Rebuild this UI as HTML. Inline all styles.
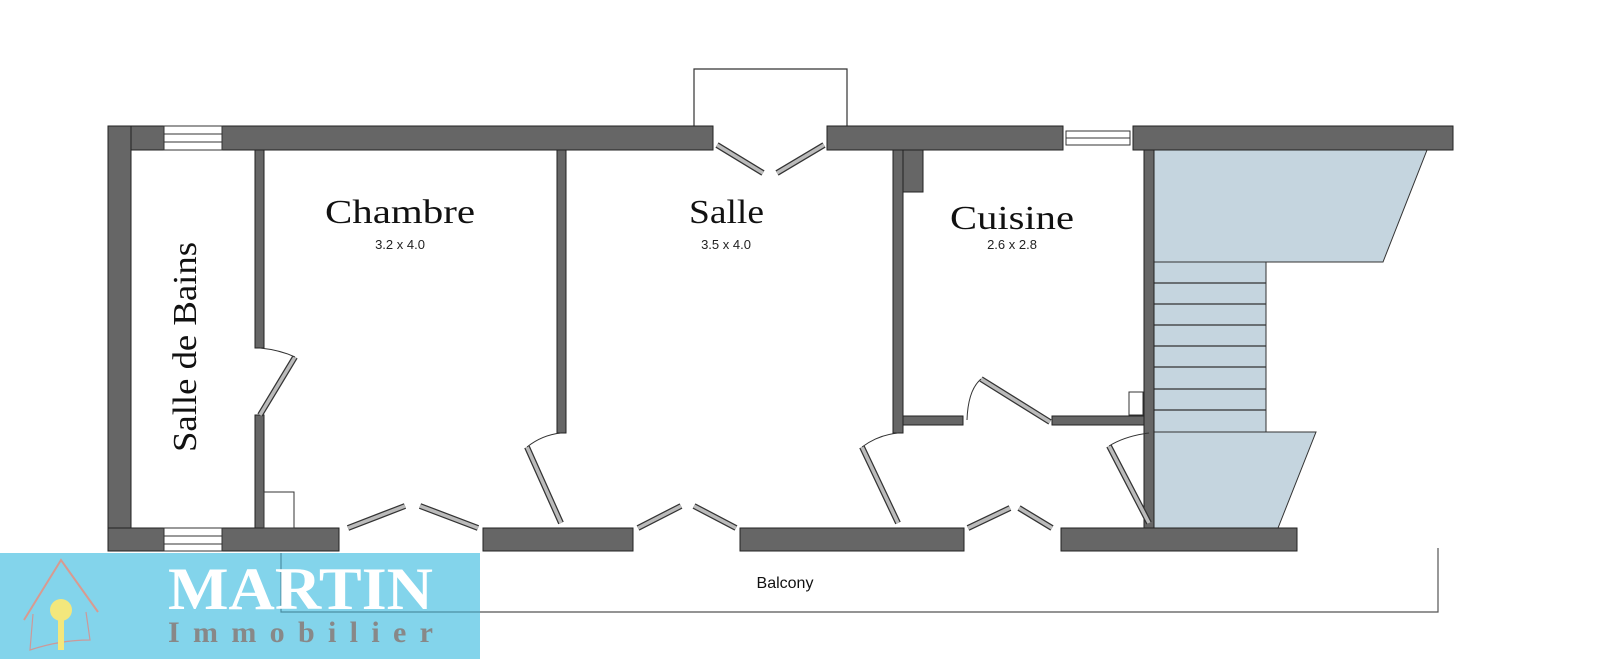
<!DOCTYPE html>
<html><head><meta charset="utf-8"><style>
html,body{margin:0;padding:0;background:#fff;width:1600px;height:659px;overflow:hidden}
</style></head><body>
<svg width="1600" height="659" viewBox="0 0 1600 659" xmlns="http://www.w3.org/2000/svg">
<rect width="1600" height="659" fill="#fff"/>
<!-- stair -->
<g fill="#c5d5df" stroke="#333" stroke-width="1">
<polygon points="1154,150 1427,150 1383,262 1154,262"/>
<rect x="1154" y="262" width="112" height="170"/>
<polygon points="1154,432 1316,432 1278,528 1154,528"/>
</g>
<g stroke="#333" stroke-width="1.2">
<line x1="1154" y1="283" x2="1266" y2="283"/><line x1="1154" y1="304" x2="1266" y2="304"/>
<line x1="1154" y1="325" x2="1266" y2="325"/><line x1="1154" y1="346" x2="1266" y2="346"/>
<line x1="1154" y1="367" x2="1266" y2="367"/><line x1="1154" y1="389" x2="1266" y2="389"/>
<line x1="1154" y1="410" x2="1266" y2="410"/>
</g>
<!-- box above -->
<polyline points="694,126 694,69 847,69 847,126" fill="none" stroke="#333" stroke-width="1.2"/>
<!-- walls -->
<g fill="#666" stroke="#222" stroke-width="1">
<rect x="108" y="126" width="605" height="24"/>
<rect x="827" y="126" width="236" height="24"/>
<rect x="1133" y="126" width="320" height="24"/>
<rect x="108" y="126" width="23" height="425"/>
<rect x="108" y="528" width="231" height="23"/>
<rect x="483" y="528" width="150" height="23"/>
<rect x="740" y="528" width="224" height="23"/>
<rect x="1061" y="528" width="236" height="23"/>
<rect x="255" y="150" width="9" height="198"/>
<rect x="255" y="415" width="9" height="113"/>
<rect x="557" y="150" width="9" height="283"/>
<rect x="893" y="150" width="30" height="42"/>
<rect x="893" y="150" width="10" height="283"/>
<rect x="903" y="416" width="60" height="9"/>
<rect x="1052" y="416" width="92" height="9"/>
<rect x="1144" y="150" width="10" height="378"/>
</g>
<!-- windows -->
<g fill="#fff" stroke="#333" stroke-width="1">
<rect x="164" y="126" width="58" height="24"/><line x1="164" y1="134" x2="222" y2="134"/><line x1="164" y1="142" x2="222" y2="142"/>
<rect x="164" y="528" width="58" height="23"/><line x1="164" y1="536" x2="222" y2="536"/><line x1="164" y1="544" x2="222" y2="544"/>
<rect x="1066" y="131" width="64" height="14"/><line x1="1066" y1="138" x2="1130" y2="138"/>
</g>
<rect x="264" y="492" width="30" height="36" fill="none" stroke="#333"/>
<rect x="1129" y="392" width="14" height="23" fill="none" stroke="#333"/>
<!-- doors -->
<g stroke="#333" stroke-width="6" stroke-linecap="butt">
<line x1="260" y1="415" x2="295" y2="357"/><line x1="348" y1="528" x2="405" y2="506"/><line x1="478" y1="528" x2="420" y2="506"/>
<line x1="561" y1="523" x2="527" y2="447"/><line x1="638" y1="528" x2="681" y2="506"/><line x1="736" y1="528" x2="694" y2="506"/>
<line x1="898" y1="523" x2="862" y2="447"/><line x1="968" y1="528" x2="1010" y2="508"/><line x1="1052" y1="528" x2="1019" y2="508"/>
<line x1="1149" y1="523" x2="1109" y2="446"/><line x1="1050" y1="422" x2="981" y2="379"/>
<line x1="717" y1="145" x2="763" y2="173"/><line x1="824" y1="145" x2="777" y2="173"/>
</g>
<g stroke="#bbb" stroke-width="3.5">
<line x1="260" y1="415" x2="295" y2="357"/><line x1="348" y1="528" x2="405" y2="506"/><line x1="478" y1="528" x2="420" y2="506"/>
<line x1="561" y1="523" x2="527" y2="447"/><line x1="638" y1="528" x2="681" y2="506"/><line x1="736" y1="528" x2="694" y2="506"/>
<line x1="898" y1="523" x2="862" y2="447"/><line x1="968" y1="528" x2="1010" y2="508"/><line x1="1052" y1="528" x2="1019" y2="508"/>
<line x1="1149" y1="523" x2="1109" y2="446"/><line x1="1050" y1="422" x2="981" y2="379"/>
<line x1="717" y1="145" x2="763" y2="173"/><line x1="824" y1="145" x2="777" y2="173"/>
</g>
<g fill="none" stroke="#333" stroke-width="1">
<path d="M260,348 Q280,350 295,357"/><path d="M561,433 Q542,435 527,447"/><path d="M898,433 Q878,435 862,447"/>
<path d="M1149,433 Q1125,436 1109,446"/><path d="M967,420 Q968,390 981,379"/>
</g>
<!-- balcony -->
<polyline points="480,612 1438,612 1438,548" fill="none" stroke="#555" stroke-width="1.2"/>
<text x="785" y="588" font-family="Liberation Sans, sans-serif" font-size="16" fill="#111" text-anchor="middle">Balcony</text>
<!-- labels -->
<g font-family="Liberation Serif, serif" fill="#111" font-size="34">
<text x="325" y="223" textLength="150" lengthAdjust="spacingAndGlyphs">Chambre</text>
<text x="689" y="223" textLength="75" lengthAdjust="spacingAndGlyphs">Salle</text>
<text x="950" y="229" textLength="124" lengthAdjust="spacingAndGlyphs">Cuisine</text>
<text transform="translate(196,452) rotate(-90)" textLength="210" lengthAdjust="spacingAndGlyphs">Salle de Bains</text>
</g>
<g font-family="Liberation Sans, sans-serif" fill="#222" text-anchor="middle" font-size="13">
<text x="400" y="249">3.2 x 4.0</text><text x="726" y="249">3.5 x 4.0</text><text x="1012" y="249">2.6 x 2.8</text>
</g>
<!-- logo -->
<rect x="0" y="553" width="480" height="106" fill="#7fd3ea" opacity="0.97"/>
<polyline points="281,553 281,612 480,612" fill="none" stroke="#4b8fa3" stroke-width="1.2"/>
<polyline points="24,620 61,560 98,612" fill="none" stroke="#d99a90" stroke-width="2"/>
<path d="M33,614 L30,650 Q60,640 90,640 L86,612" fill="none" stroke="#c99" stroke-width="1.2"/>
<circle cx="61" cy="610" r="11" fill="#f3e77c"/><rect x="58" y="618" width="6" height="32" fill="#f3e77c"/>
<text x="168" y="609" font-family="Liberation Serif, serif" font-weight="bold" font-size="60" fill="#fff" textLength="265" lengthAdjust="spacingAndGlyphs">MARTIN</text>
<text x="168" y="642" font-family="Liberation Serif, serif" font-weight="bold" font-size="30" fill="#888" textLength="265" lengthAdjust="spacing">Immobilier</text>
</svg>
</body></html>
